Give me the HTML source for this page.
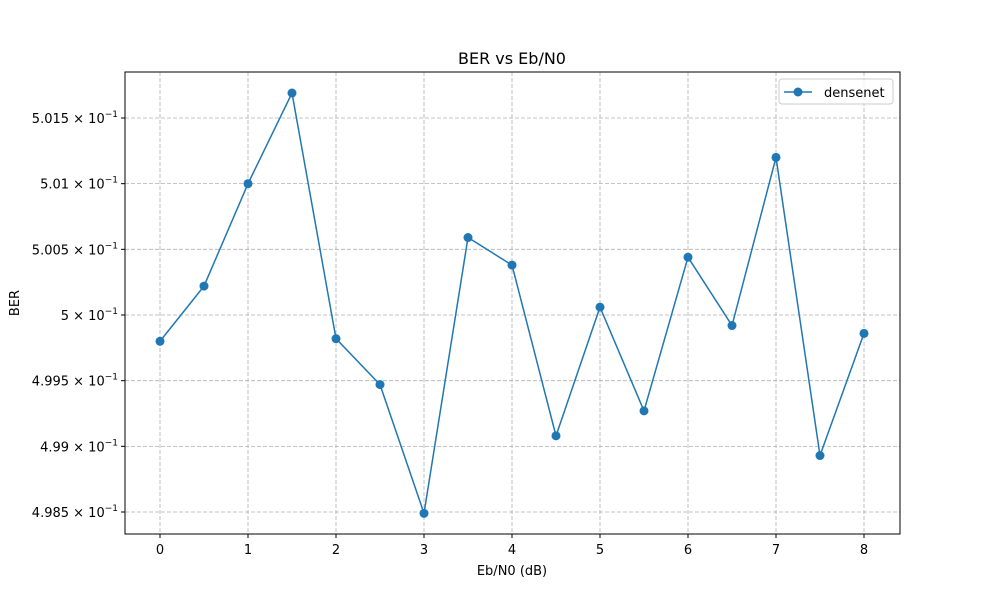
<!DOCTYPE html>
<html><head><meta charset="utf-8"><style>
body{margin:0;background:#fff;}
svg{display:block;font-family:"DejaVu Sans","Liberation Sans",sans-serif;}
</style></head><body>
<svg id="chart" width="1000" height="600" viewBox="0 0 1000 600">
<rect x="0" y="0" width="1000" height="600" fill="#fff"/>
<text x="512" y="64" text-anchor="middle" font-size="16">BER vs Eb/N0</text>
<g id="grid"></g>
<g id="xticks"></g>
<g id="yticks"></g>
<g id="series"></g>
<rect x="125" y="72" width="775" height="462" fill="none" stroke="#000" stroke-width="1"/>
<text x="512" y="575" text-anchor="middle" font-size="13">Eb/N0 (dB)</text>
<text x="19" y="303" text-anchor="middle" font-size="13" transform="rotate(-90 19 303)">BER</text>
<g>
<rect x="779" y="79" width="114" height="25" rx="3" fill="#fff" fill-opacity="0.8" stroke="#ccc"/>
<line x1="784" y1="92" x2="812" y2="92" stroke="#1f77b4" stroke-width="1.5"/>
<circle cx="798" cy="92" r="4.5" fill="#1f77b4"/>
<text x="824" y="97" font-size="13">densenet</text>
</g>
</svg>
<script>
const xValues=[0,0.5,1,1.5,2,2.5,3,3.5,4,4.5,5,5.5,6,6.5,7,7.5,8];
const berValues=[0.49980,0.50022,0.50100,0.50169,0.49982,0.49947,0.49849,0.50059,0.50038,0.49908,0.50006,0.49927,0.50044,0.49992,0.50120,0.49893,0.49986];
const xTicks=[0,1,2,3,4,5,6,7,8];
const yTicks=[0.4985,0.499,0.4995,0.5,0.5005,0.501,0.5015];
const yTickMantissa=["4.985","4.99","4.995","5","5.005","5.01","5.015"];
const NS="http://www.w3.org/2000/svg";
function X(v){return 160+v*88;}
function Y(v){return 315-(v-0.5)/0.0005*65.67;}
function mk(tag,attrs,parent){const e=document.createElementNS(NS,tag);for(const k in attrs)e.setAttribute(k,attrs[k]);parent.appendChild(e);return e;}
const grid=document.getElementById('grid'),xt=document.getElementById('xticks'),yt=document.getElementById('yticks'),se=document.getElementById('series');
xTicks.forEach(t=>{
 const g=mk('line',{x1:X(t),x2:X(t),y1:72,y2:534,stroke:'#b0b0b0','stroke-dasharray':'4,2','stroke-width':0.8},grid);
 
 
 const tk=mk('line',{x1:X(t),x2:X(t),y1:534,y2:538,stroke:'#000'},xt);
 
 
 const tx=mk('text',{x:X(t),y:554,'text-anchor':'middle','font-size':13},xt);
 tx.textContent=t;
 
 
});
yTicks.forEach((t,i)=>{
 const y=Y(t);
 const g=mk('line',{x1:125,x2:900,y1:y,y2:y,stroke:'#b0b0b0','stroke-dasharray':'4,2','stroke-width':0.8},grid);
 
 
 const tk=mk('line',{x1:121,x2:125,y1:y,y2:y,stroke:'#000'},yt);
 
 
 const tx=mk('text',{x:118,y:y+5,'text-anchor':'end','font-size':13},yt);
 
 
 const a=document.createElementNS(NS,'tspan');a.textContent=yTickMantissa[i]+" \u00d7 10";tx.appendChild(a);
 const b=document.createElementNS(NS,'tspan');b.setAttribute('dy','-6');b.setAttribute('font-size','9');b.textContent="\u22121";tx.appendChild(b);
});
const pts=xValues.map((x,i)=>X(x)+','+Y(berValues[i])).join(' ');
const pl=mk('polyline',{points:pts,fill:'none',stroke:'#1f77b4','stroke-width':1.5},se);


xValues.forEach((x,i)=>{
 const c=mk('circle',{cx:X(x),cy:Y(berValues[i]),r:4.5,fill:'#1f77b4'},se);
 
 
});
</script>
</body></html>
